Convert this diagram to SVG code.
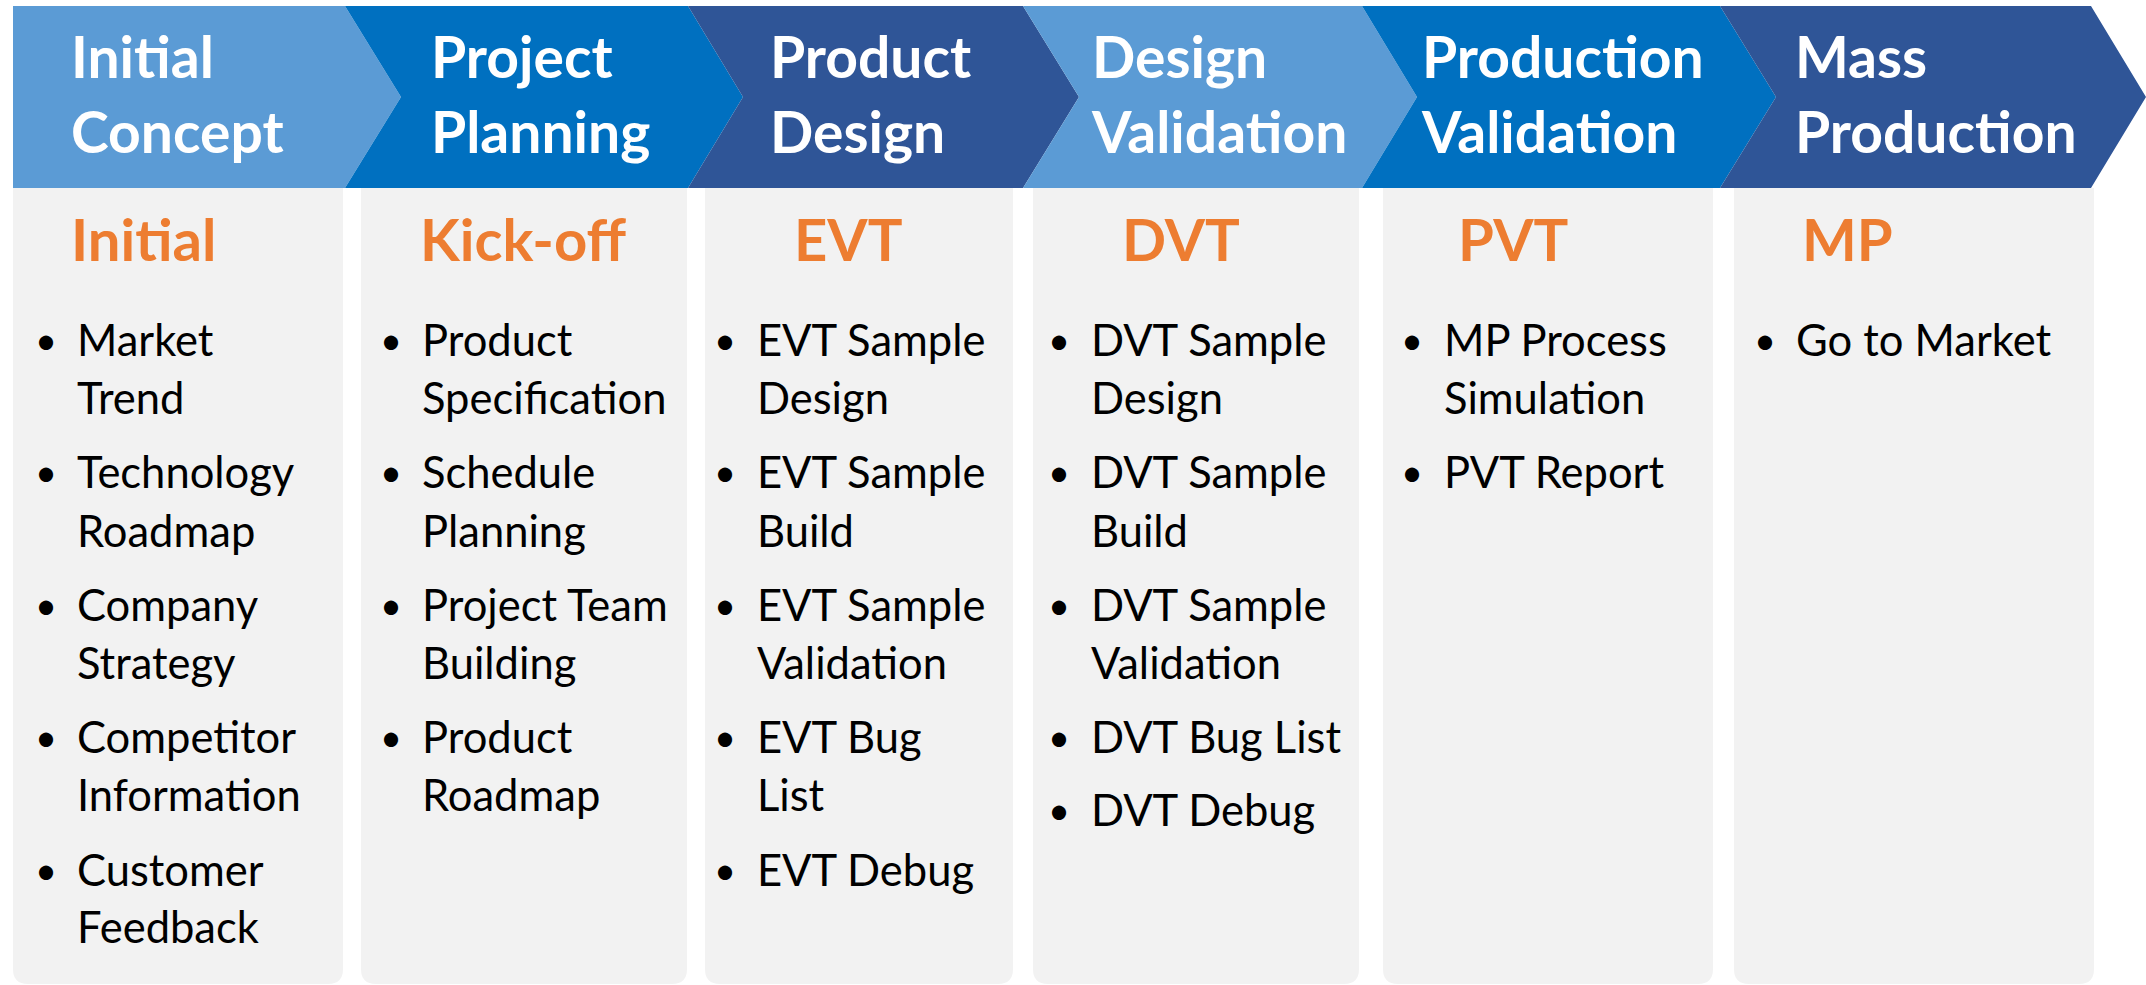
<svg xmlns="http://www.w3.org/2000/svg" width="2146" height="985" viewBox="0 0 2146 985">
<style>
.panel{fill:#F2F2F2}
.c1{fill:#5B9BD5}
.c2{fill:#0070C0}
.c3{fill:#2F5597}
.hd{font-family:Lato,"Liberation Sans",sans-serif;font-weight:700;font-size:57px;fill:#FFFFFF}
.sub{font-family:Lato,"Liberation Sans",sans-serif;font-weight:700;font-size:58px;fill:#ED7D31}
.bl{font-family:Lato,"Liberation Sans",sans-serif;font-weight:400;font-size:43.5px;fill:#000000}
.dot{font-size:38px;text-anchor:middle}
</style>
<rect width="2146" height="985" fill="#FFFFFF"/>
<g id="panels">
<path class="panel" d="M13,188 H343 V969 Q343,984 328,984 H28 Q13,984 13,969 Z"/>
<path class="panel" d="M361,188 H687 V969 Q687,984 672,984 H376 Q361,984 361,969 Z"/>
<path class="panel" d="M705,188 H1013 V969 Q1013,984 998,984 H720 Q705,984 705,969 Z"/>
<path class="panel" d="M1033,188 H1359 V969 Q1359,984 1344,984 H1048 Q1033,984 1033,969 Z"/>
<path class="panel" d="M1383,188 H1713 V969 Q1713,984 1698,984 H1398 Q1383,984 1383,969 Z"/>
<path class="panel" d="M1734,188 H2094 V969 Q2094,984 2079,984 H1749 Q1734,984 1734,969 Z"/>
</g>
<g id="stage1">
<polygon class="c1" points="13,6 345,6 401,97 345,188 13,188"/>
<text class="hd" x="71" y="78">Initial</text>
<text class="hd" x="71" y="153">Concept</text>
<text class="sub" x="71" y="261">Initial</text>
<g class="bl">
<text class="dot" x="46" y="354">•</text><text x="77" y="356">Market</text><text x="77" y="414">Trend</text>
<text class="dot" x="46" y="486">•</text><text x="77" y="488">Technology</text><text x="77" y="547">Roadmap</text>
<text class="dot" x="46" y="619">•</text><text x="77" y="621">Company</text><text x="77" y="679">Strategy</text>
<text class="dot" x="46" y="751">•</text><text x="77" y="753">Competitor</text><text x="77" y="811">Information</text>
<text class="dot" x="46" y="884">•</text><text x="77" y="886">Customer</text><text x="77" y="943">Feedback</text>
</g>
</g>
<g id="stage2">
<polygon class="c2" points="345,6 688,6 743,97 688,188 345,188 401,97"/>
<text class="hd" x="431" y="78">Project</text>
<text class="hd" x="431" y="153">Planning</text>
<text class="sub" x="420" y="261">Kick-off</text>
<g class="bl">
<text class="dot" x="391" y="354">•</text><text x="422" y="356">Product</text><text x="422" y="414">Specification</text>
<text class="dot" x="391" y="486">•</text><text x="422" y="488">Schedule</text><text x="422" y="547">Planning</text>
<text class="dot" x="391" y="619">•</text><text x="422" y="621">Project Team</text><text x="422" y="679">Building</text>
<text class="dot" x="391" y="751">•</text><text x="422" y="753">Product</text><text x="422" y="811">Roadmap</text>
</g>
</g>
<g id="stage3">
<polygon class="c3" points="688,6 1023,6 1079,97 1023,188 688,188 743,97"/>
<text class="hd" x="770" y="78">Product</text>
<text class="hd" x="770" y="153">Design</text>
<text class="sub" x="794" y="261">EVT</text>
<g class="bl">
<text class="dot" x="725" y="354">•</text><text x="757" y="356">EVT Sample</text><text x="757" y="414">Design</text>
<text class="dot" x="725" y="486">•</text><text x="757" y="488">EVT Sample</text><text x="757" y="547">Build</text>
<text class="dot" x="725" y="619">•</text><text x="757" y="621">EVT Sample</text><text x="757" y="679">Validation</text>
<text class="dot" x="725" y="751">•</text><text x="757" y="753">EVT Bug</text><text x="757" y="811">List</text>
<text class="dot" x="725" y="884">•</text><text x="757" y="886">EVT Debug</text>
</g>
</g>
<g id="stage4">
<polygon class="c1" points="1023,6 1362,6 1417,97 1362,188 1023,188 1079,97"/>
<text class="hd" x="1092" y="78">Design</text>
<text class="hd" x="1092" y="153">Validation</text>
<text class="sub" x="1122" y="261">DVT</text>
<g class="bl">
<text class="dot" x="1059" y="354">•</text><text x="1091" y="356">DVT Sample</text><text x="1091" y="414">Design</text>
<text class="dot" x="1059" y="486">•</text><text x="1091" y="488">DVT Sample</text><text x="1091" y="547">Build</text>
<text class="dot" x="1059" y="619">•</text><text x="1091" y="621">DVT Sample</text><text x="1091" y="679">Validation</text>
<text class="dot" x="1059" y="751">•</text><text x="1091" y="753">DVT Bug List</text>
<text class="dot" x="1059" y="824">•</text><text x="1091" y="826">DVT Debug</text>
</g>
</g>
<g id="stage5">
<polygon class="c2" points="1362,6 1720,6 1776,97 1720,188 1362,188 1417,97"/>
<text class="hd" x="1422" y="78">Production</text>
<text class="hd" x="1422" y="153">Validation</text>
<text class="sub" x="1458" y="261">PVT</text>
<g class="bl">
<text class="dot" x="1412" y="354">•</text><text x="1444" y="356">MP Process</text><text x="1444" y="414">Simulation</text>
<text class="dot" x="1412" y="486">•</text><text x="1444" y="488">PVT Report</text>
</g>
</g>
<g id="stage6">
<polygon class="c3" points="1720,6 2091,6 2146,97 2091,188 1720,188 1776,97"/>
<text class="hd" x="1795" y="78">Mass</text>
<text class="hd" x="1795" y="153">Production</text>
<text class="sub" x="1802" y="261">MP</text>
<g class="bl">
<text class="dot" x="1765" y="354">•</text><text x="1796" y="356">Go to Market</text>
</g>
</g>
<g id="connectors"></g>
</svg>
